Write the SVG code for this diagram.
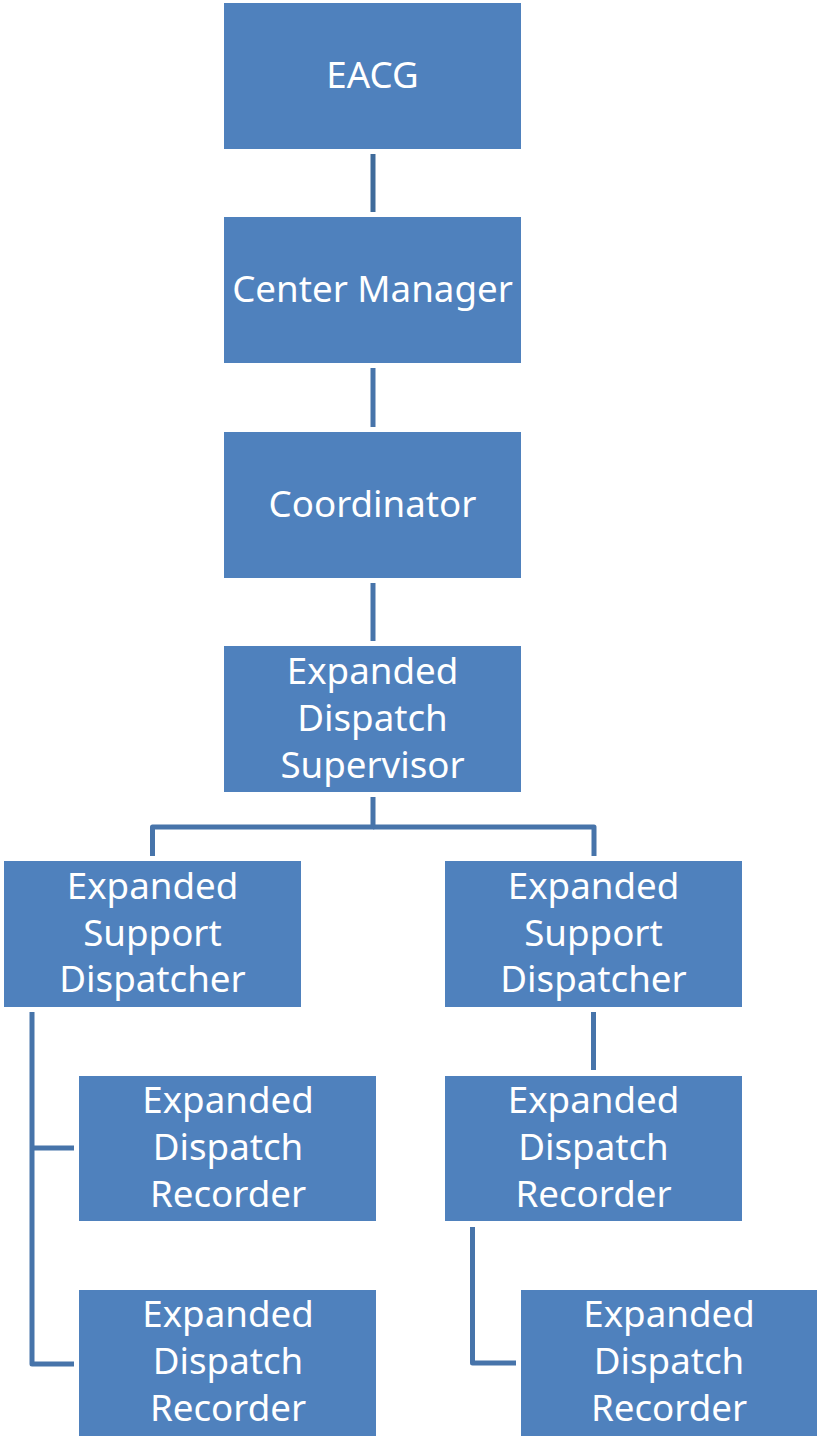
<svg xmlns="http://www.w3.org/2000/svg" width="817" height="1436" viewBox="0 0 817 1436">
<style>
.box{fill:#4F81BD;}
.lbl{fill:#FFFFFF;font-family:"Noto Sans","Open Sans","Liberation Sans",sans-serif;font-size:36.7px;text-anchor:middle;}
.con{fill:none;stroke:#4774AA;stroke-width:5;stroke-linejoin:round;}
</style>
<rect width="817" height="1436" fill="#FFFFFF"/>
<g id="connectors">
<line class="con" x1="373" y1="154" x2="373" y2="212" style="stroke:#3F6B9B"/>
<line class="con" x1="373" y1="368" x2="373" y2="427"/>
<line class="con" x1="373" y1="583" x2="373" y2="641"/>
<polyline class="con" points="373,797 373,827 152.5,827 152.5,856"/>
<polyline class="con" points="373,827 594,827 594,856"/>
<line class="con" x1="593.5" y1="1012" x2="593.5" y2="1070"/>
<polyline class="con" points="32,1012 32,1364 74,1364"/>
<line class="con" x1="32" y1="1148" x2="74" y2="1148"/>
<polyline class="con" points="472.5,1227 472.5,1363 516,1363"/>
</g>
<g id="eacg"><rect class="box" x="224" y="3" width="297" height="146"/><text class="lbl" x="372.5" y="88">EACG</text></g>
<g id="center-manager"><rect class="box" x="224" y="217" width="297" height="146"/><text class="lbl" x="372.5" y="302">Center Manager</text></g>
<g id="coordinator"><rect class="box" x="224" y="432" width="297" height="146"/><text class="lbl" x="372.5" y="517">Coordinator</text></g>
<g id="supervisor"><rect class="box" x="224" y="646" width="297" height="146"/><text class="lbl" x="372.5" y="684">Expanded</text><text class="lbl" x="372.5" y="731">Dispatch</text><text class="lbl" x="372.5" y="778">Supervisor</text></g>
<g id="support-left"><rect class="box" x="4" y="861" width="297" height="146"/><text class="lbl" x="152.5" y="899">Expanded</text><text class="lbl" x="152.5" y="946">Support</text><text class="lbl" x="152.5" y="992">Dispatcher</text></g>
<g id="support-right"><rect class="box" x="445" y="861" width="297" height="146"/><text class="lbl" x="593.5" y="899">Expanded</text><text class="lbl" x="593.5" y="946">Support</text><text class="lbl" x="593.5" y="992">Dispatcher</text></g>
<g id="recorder-left-1"><rect class="box" x="79" y="1076" width="297" height="145"/><text class="lbl" x="228" y="1113">Expanded</text><text class="lbl" x="228" y="1160">Dispatch</text><text class="lbl" x="228" y="1207">Recorder</text></g>
<g id="recorder-left-2"><rect class="box" x="79" y="1290" width="297" height="146"/><text class="lbl" x="228" y="1327">Expanded</text><text class="lbl" x="228" y="1374">Dispatch</text><text class="lbl" x="228" y="1421">Recorder</text></g>
<g id="recorder-right-1"><rect class="box" x="445" y="1076" width="297" height="145"/><text class="lbl" x="593.5" y="1113">Expanded</text><text class="lbl" x="593.5" y="1160">Dispatch</text><text class="lbl" x="593.5" y="1207">Recorder</text></g>
<g id="recorder-right-2"><rect class="box" x="521" y="1290" width="297" height="146"/><text class="lbl" x="669" y="1327">Expanded</text><text class="lbl" x="669" y="1374">Dispatch</text><text class="lbl" x="669" y="1421">Recorder</text></g>
</svg>
